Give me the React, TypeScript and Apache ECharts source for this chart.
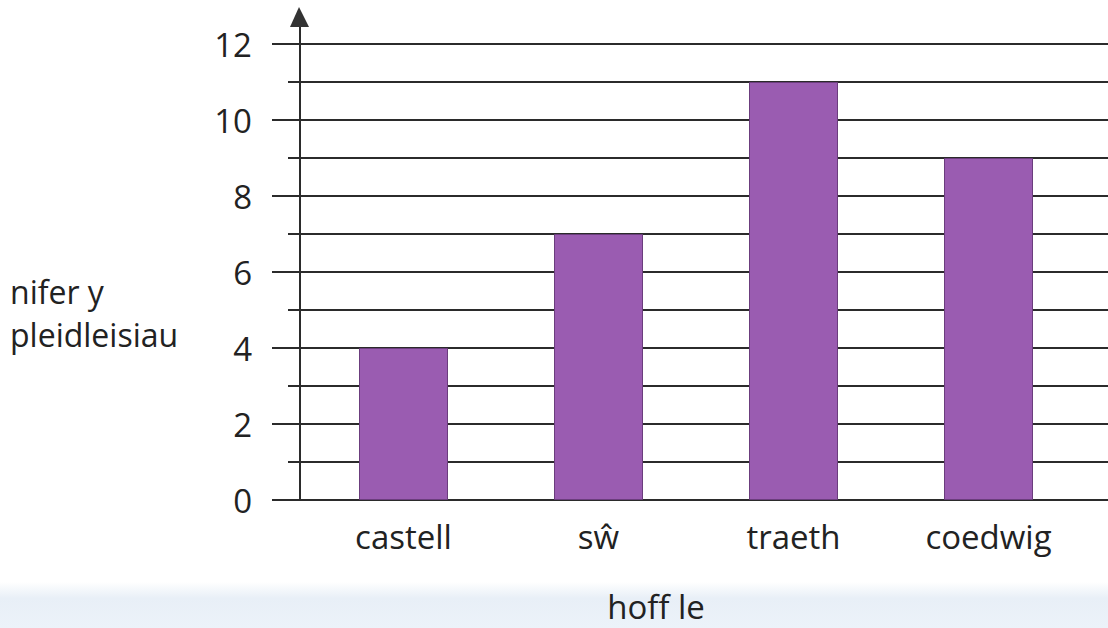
import React, { useEffect, useRef } from "react";
import * as echarts from "echarts";

const categories = ["castell", "sŵ", "traeth", "coedwig"];
const votes = [4, 7, 11, 9];
const yMin = 0;
const yMax = 12;
const yTitleLines = ["nifer y", "pleidleisiau"];
const xTitle = "hoff le";

const FONT = "'Open Sans', 'Noto Sans', sans-serif";
const INK = "#222222";
const LINE = "#2b2b2b";

export default function App() {
  const ref = useRef<HTMLDivElement>(null);
  useEffect(() => {
    if (!ref.current) return;
    const chart = echarts.init(ref.current, null, { renderer: "svg" });
    const top = 44;
    const height = 456;
    chart.setOption({
      animation: false,
      backgroundColor: "#ffffff",
      grid: [
        { left: 300, right: 0, top, height, outerBoundsMode: "none", containLabel: false },
        { left: 306, width: 780, top, height, outerBoundsMode: "none", containLabel: false },
      ],
      xAxis: [
        { gridIndex: 0, type: "value", show: false, min: 0, max: 1 },
        {
          gridIndex: 1,
          type: "category",
          data: categories,
          axisLine: { show: false },
          axisTick: { show: false },
          axisLabel: { fontSize: 33, color: INK, margin: 20, fontFamily: FONT },
        },
      ],
      yAxis: [
        {
          gridIndex: 0,
          type: "value",
          position: "left",
          offset: 0,
          min: yMin,
          max: yMax,
          interval: 1,
          axisLine: { show: true, lineStyle: { color: LINE, width: 2 } },
          axisTick: { show: true, length: 12, lineStyle: { color: LINE, width: 2 } },
          axisLabel: { show: false },
          splitLine: { show: true, lineStyle: { color: LINE, width: 2 } },
        },
        {
          gridIndex: 0,
          type: "value",
          position: "left",
          offset: 0,
          min: yMin,
          max: yMax,
          interval: 2,
          axisLine: { show: false },
          axisTick: { show: true, length: 28, lineStyle: { color: LINE, width: 2 } },
          axisLabel: { fontSize: 33, color: INK, margin: 48, fontFamily: FONT },
          splitLine: { show: false },
        },
        { gridIndex: 1, type: "value", position: "left", min: yMin, max: yMax, show: false },
      ],
      series: [
        {
          type: "bar",
          xAxisIndex: 1,
          yAxisIndex: 2,
          data: votes,
          barWidth: 89,
          itemStyle: { color: "#9a5cb1", borderColor: "#6b3d7d", borderWidth: 1 },
        },
      ],
      graphic: [
        {
          type: "rect",
          silent: true,
          z: -10,
          shape: { x: 0, y: 582, width: 1108, height: 46 },
          style: {
            fill: new echarts.graphic.LinearGradient(0, 0, 0, 1, [
              { offset: 0, color: "rgba(232,239,247,0)" },
              { offset: 0.35, color: "rgba(232,239,247,1)" },
              { offset: 1, color: "rgba(236,242,249,1)" },
            ]),
          },
        },
        {
          type: "line",
          shape: { x1: 300, y1: top, x2: 300, y2: 22 },
          style: { stroke: LINE, lineWidth: 2 },
        },
        {
          type: "polygon",
          shape: { points: [[299, 7], [290, 27], [309, 27]] },
          style: { fill: "#333" },
        },
        {
          type: "text",
          x: 10,
          y: 291,
          style: {
            text: yTitleLines[0],
            fontSize: 32,
            fill: INK,
            fontFamily: FONT,
            verticalAlign: "middle",
          },
        },
        {
          type: "text",
          x: 10,
          y: 334,
          style: {
            text: yTitleLines[1],
            fontSize: 32,
            fill: INK,
            fontFamily: FONT,
            verticalAlign: "middle",
          },
        },
        {
          type: "text",
          x: 656,
          y: 606,
          style: {
            text: xTitle,
            fontSize: 33,
            fill: INK,
            fontFamily: FONT,
            align: "center",
            verticalAlign: "middle",
          },
        },
      ],
    });
    return () => chart.dispose();
  }, []);
  return (
    <div
      ref={ref}
      style={{ position: "fixed", left: 0, top: 0, width: 1108, height: 628 }}
    />
  );
}
